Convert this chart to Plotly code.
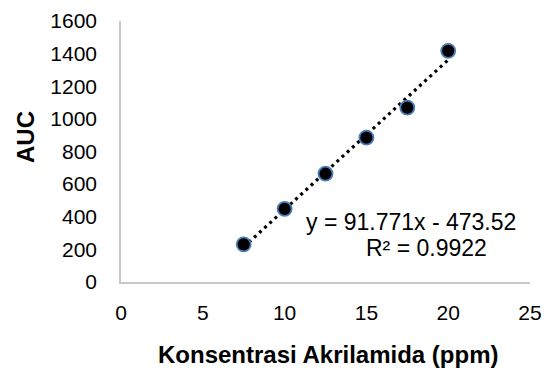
import plotly.graph_objects as go

# Data
konsentrasi = [7.5, 10, 12.5, 15, 17.5, 20]
auc = [231, 448, 664, 885, 1069, 1417]

# Linear trendline as printed on the chart
slope = 91.771
intercept = -473.52
r2 = 0.9922
trend_x = [min(konsentrasi), max(konsentrasi)]
trend_y = [slope * v + intercept for v in trend_x]

x_ticks = [0, 5, 10, 15, 20, 25]
y_ticks = [0, 200, 400, 600, 800, 1000, 1200, 1400, 1600]

FONT = "Liberation Sans, Arial, sans-serif"

# The page body adds an 8px margin, so the figure is drawn 8px smaller
W, H = 544, 362
ML, MR, MT, MB = 113, 22, 13, 88
plot_w = W - ML - MR
plot_h = H - MT - MB


def px_to_paper_x(px):
    return (px - ML) / plot_w


def px_to_paper_y(py):
    return (H - MB - py) / plot_h


fig = go.Figure()
fig.add_trace(go.Scatter(
    x=trend_x, y=trend_y, mode="lines",
    line=dict(color="black", width=3.2, dash="3px,4px"),
    hoverinfo="skip", showlegend=False,
))
fig.add_trace(go.Scatter(
    x=konsentrasi, y=auc, mode="markers",
    marker=dict(size=14, color="black", line=dict(color="#4A7EBB", width=1.8)),
    showlegend=False,
))

eq_text = f"y = {slope}x - {abs(intercept):.2f}"
r2_text = f"R² = {r2}"

fig.update_layout(
    width=W, height=H,
    margin=dict(l=ML, r=MR, t=MT, b=MB),
    paper_bgcolor="white", plot_bgcolor="white",
    font=dict(family=FONT, color="black", size=21),
    xaxis=dict(
        range=[0, 25], tickvals=x_ticks, showgrid=False, zeroline=False,
        showline=True, linecolor="#C8C8C8", linewidth=1.5,
        ticks="", ticklabelstandoff=11, automargin=False,
        tickfont=dict(size=21, color="black"),
    ),
    yaxis=dict(
        range=[0, 1600], tickvals=y_ticks, showgrid=False, zeroline=False,
        showline=True, linecolor="#C8C8C8", linewidth=1.5,
        ticks="", ticklabelstandoff=18, automargin=False,
        tickfont=dict(size=21, color="black"),
    ),
    annotations=[
        dict(text=eq_text, x=17.73, y=368, xref="x", yref="y",
             showarrow=False, font=dict(size=23, color="black"),
             borderpad=0, xanchor="center", yanchor="middle"),
        dict(text=r2_text, x=18.7, y=208, xref="x", yref="y",
             showarrow=False, font=dict(size=23, color="black"),
             borderpad=0, xanchor="center", yanchor="middle"),
        dict(text="<b>Konsentrasi Akrilamida (ppm)</b>",
             x=px_to_paper_x(320.5), y=px_to_paper_y(346),
             xref="paper", yref="paper", showarrow=False,
             font=dict(size=24, color="black"),
             xanchor="center", yanchor="middle"),
        dict(text="<b>AUC</b>",
             x=px_to_paper_x(17), y=px_to_paper_y(129),
             xref="paper", yref="paper", showarrow=False, textangle=-90,
             font=dict(size=24, color="black"),
             xanchor="center", yanchor="middle"),
    ],
)

fig.write_html("out.html")
